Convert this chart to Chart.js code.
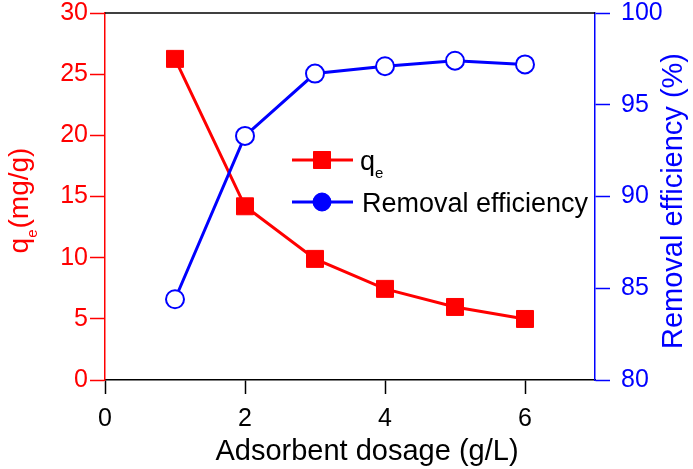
<!DOCTYPE html>
<html>
<head>
<meta charset="UTF-8">
<title>Adsorbent dosage</title>
<style>
  html, body { margin: 0; padding: 0; background: #fff; }
  #wrap { width: 693px; height: 469px; }
</style>
</head>
<body>
<div id="wrap"><canvas id="myChart" width="693" height="469"></canvas></div>
<script src="https://cdn.jsdelivr.net/npm/chart.js"></script>
<script>
// data
const dosage = [1, 2, 3, 4, 5, 6];
const qe = [26.25, 14.2, 9.9, 7.45, 5.97, 4.99];
const removal = [84.4, 93.3, 96.7, 97.1, 97.4, 97.2];

const xTicks = [0, 2, 4, 6];
const qeTicks = [0, 5, 10, 15, 20, 25, 30];
const removalTicks = [80, 85, 90, 95, 100];

const xTitle = 'Adsorbent dosage (g/L)';
const rightTitle = 'Removal efficiency (%)';
const legendNames = ['q', 'Removal efficiency'];

const RED = '#ff0000';
const BLUE = '#0000ff';
const FONT = '"Liberation Sans", Arial, Helvetica, sans-serif';

Chart.defaults.font.family = FONT;

function toPoints(ys) {
  return dosage.map((x, i) => ({ x: x, y: ys[i] }));
}
function fixedTicks(list) {
  return function (scale) {
    scale.ticks = list.map(v => ({ value: v }));
  };
}

// titles with subscripts, frame top line and legend
const overlay = {
  id: 'overlay',
  afterDraw(chart) {
    const ctx = chart.ctx;
    const a = chart.chartArea;
    ctx.save();

    // top frame line
    ctx.strokeStyle = '#000';
    ctx.lineWidth = 1.5;
    ctx.beginPath();
    ctx.moveTo(a.left, a.top);
    ctx.lineTo(a.right, a.top);
    ctx.stroke();

    // x title
    ctx.fillStyle = '#000';
    ctx.font = '29px ' + FONT;
    ctx.textAlign = 'center';
    ctx.textBaseline = 'alphabetic';
    ctx.fillText(xTitle, a.left + 262, a.bottom + 80);

    // right title
    ctx.save();
    ctx.fillStyle = BLUE;
    ctx.translate(a.right + 87, 201);
    ctx.rotate(-Math.PI / 2);
    ctx.fillText(rightTitle, 0, 0);
    ctx.restore();

    // left title q_e(mg/g)
    ctx.save();
    ctx.fillStyle = RED;
    ctx.translate(28, 201);
    ctx.rotate(-Math.PI / 2);
    ctx.textAlign = 'left';
    const big = '28px ' + FONT, small = '15px ' + FONT;
    ctx.font = big; const wq = ctx.measureText('q').width;
    const wr = ctx.measureText('(mg/g)').width;
    ctx.font = small; const we = ctx.measureText('e').width;
    let x0 = -(wq + we + wr) / 2;
    ctx.font = big; ctx.fillText('q', x0, 0);
    ctx.font = small; ctx.fillText('e', x0 + wq, 9);
    ctx.font = big; ctx.fillText('(mg/g)', x0 + wq + we + 1, 0);
    ctx.restore();

    // legend
    const rows = [
      { y: 160, color: RED, style: 'rect', r: 12 },
      { y: 202, color: BLUE, style: 'circle', r: 9 }
    ];
    rows.forEach((row, i) => {
      ctx.strokeStyle = row.color;
      ctx.lineWidth = 3;
      ctx.beginPath();
      ctx.moveTo(292, row.y);
      ctx.lineTo(353, row.y);
      ctx.stroke();
      ctx.fillStyle = row.color;
      ctx.strokeStyle = row.color;
      ctx.lineWidth = 1;
      Chart.helpers.drawPoint(ctx, { pointStyle: row.style, radius: row.r, borderWidth: 1, rotation: 0 }, 322, row.y);
      ctx.fill();
    });
    ctx.fillStyle = '#000';
    ctx.textAlign = 'left';
    ctx.font = '27px ' + FONT;
    ctx.fillText(legendNames[0], 360, 170);
    const wq2 = ctx.measureText(legendNames[0]).width;
    ctx.font = '15px ' + FONT;
    ctx.fillText('e', 360 + wq2, 178);
    ctx.font = '27px ' + FONT;
    ctx.fillText(legendNames[1], 362, 212);

    ctx.restore();
  }
};

const data = {
  datasets: [
    {
      label: 'qe',
      data: toPoints(qe),
      yAxisID: 'y',
      borderColor: RED,
      backgroundColor: RED,
      borderWidth: 3,
      pointStyle: 'rect',
      pointRadius: 12,
      pointBorderWidth: 1,
      pointBackgroundColor: RED,
      pointBorderColor: RED,
      tension: 0,
      order: 1
    },
    {
      label: 'Removal efficiency',
      data: toPoints(removal),
      yAxisID: 'y2',
      borderColor: BLUE,
      backgroundColor: '#ffffff',
      borderWidth: 3,
      pointStyle: 'circle',
      pointRadius: 9,
      pointBorderWidth: 2,
      pointBackgroundColor: '#ffffff',
      pointBorderColor: BLUE,
      tension: 0,
      order: 0
    }
  ]
};

const config = {
  type: 'line',
  data,
  options: {
    responsive: false,
    animation: false,
    layout: { padding: { top: 13, left: 0, right: 0, bottom: 0 } },
    plugins: {
      legend: { display: false },
      tooltip: { enabled: false }
    },
    scales: {
      x: {
        type: 'linear',
        min: 0,
        max: 7,
        afterBuildTicks: fixedTicks(xTicks),
        afterFit(scale) { scale.height = 89; scale.paddingLeft = 0; scale.paddingRight = 0; },
        grid: { drawOnChartArea: false, tickLength: 14, tickColor: '#000', tickWidth: 1.5 },
        border: { display: true, color: '#000', width: 1.5 },
        ticks: { color: '#000', font: { size: 25 }, padding: 10, maxRotation: 0 }
      },
      y: {
        type: 'linear',
        position: 'left',
        min: 0,
        max: 30,
        afterBuildTicks: fixedTicks(qeTicks),
        afterFit(scale) { scale.width = 105; scale.paddingTop = 0; scale.paddingBottom = 0; },
        grid: { drawOnChartArea: false, tickLength: 15, tickColor: RED, tickWidth: 1.5 },
        border: { display: true, color: RED, width: 1.5 },
        ticks: { color: RED, font: { size: 25 }, padding: 2 }
      },
      y2: {
        type: 'linear',
        position: 'right',
        min: 80,
        max: 100,
        afterBuildTicks: fixedTicks(removalTicks),
        afterFit(scale) { scale.width = 98; scale.paddingTop = 0; scale.paddingBottom = 0; },
        grid: { drawOnChartArea: false, tickLength: 15, tickColor: BLUE, tickWidth: 1.5 },
        border: { display: true, color: BLUE, width: 1.5 },
        ticks: { color: BLUE, font: { size: 25 }, padding: 11 }
      }
    }
  },
  plugins: [overlay]
};

const myChart = new Chart(document.getElementById('myChart'), config);
</script>
</body>
</html>
